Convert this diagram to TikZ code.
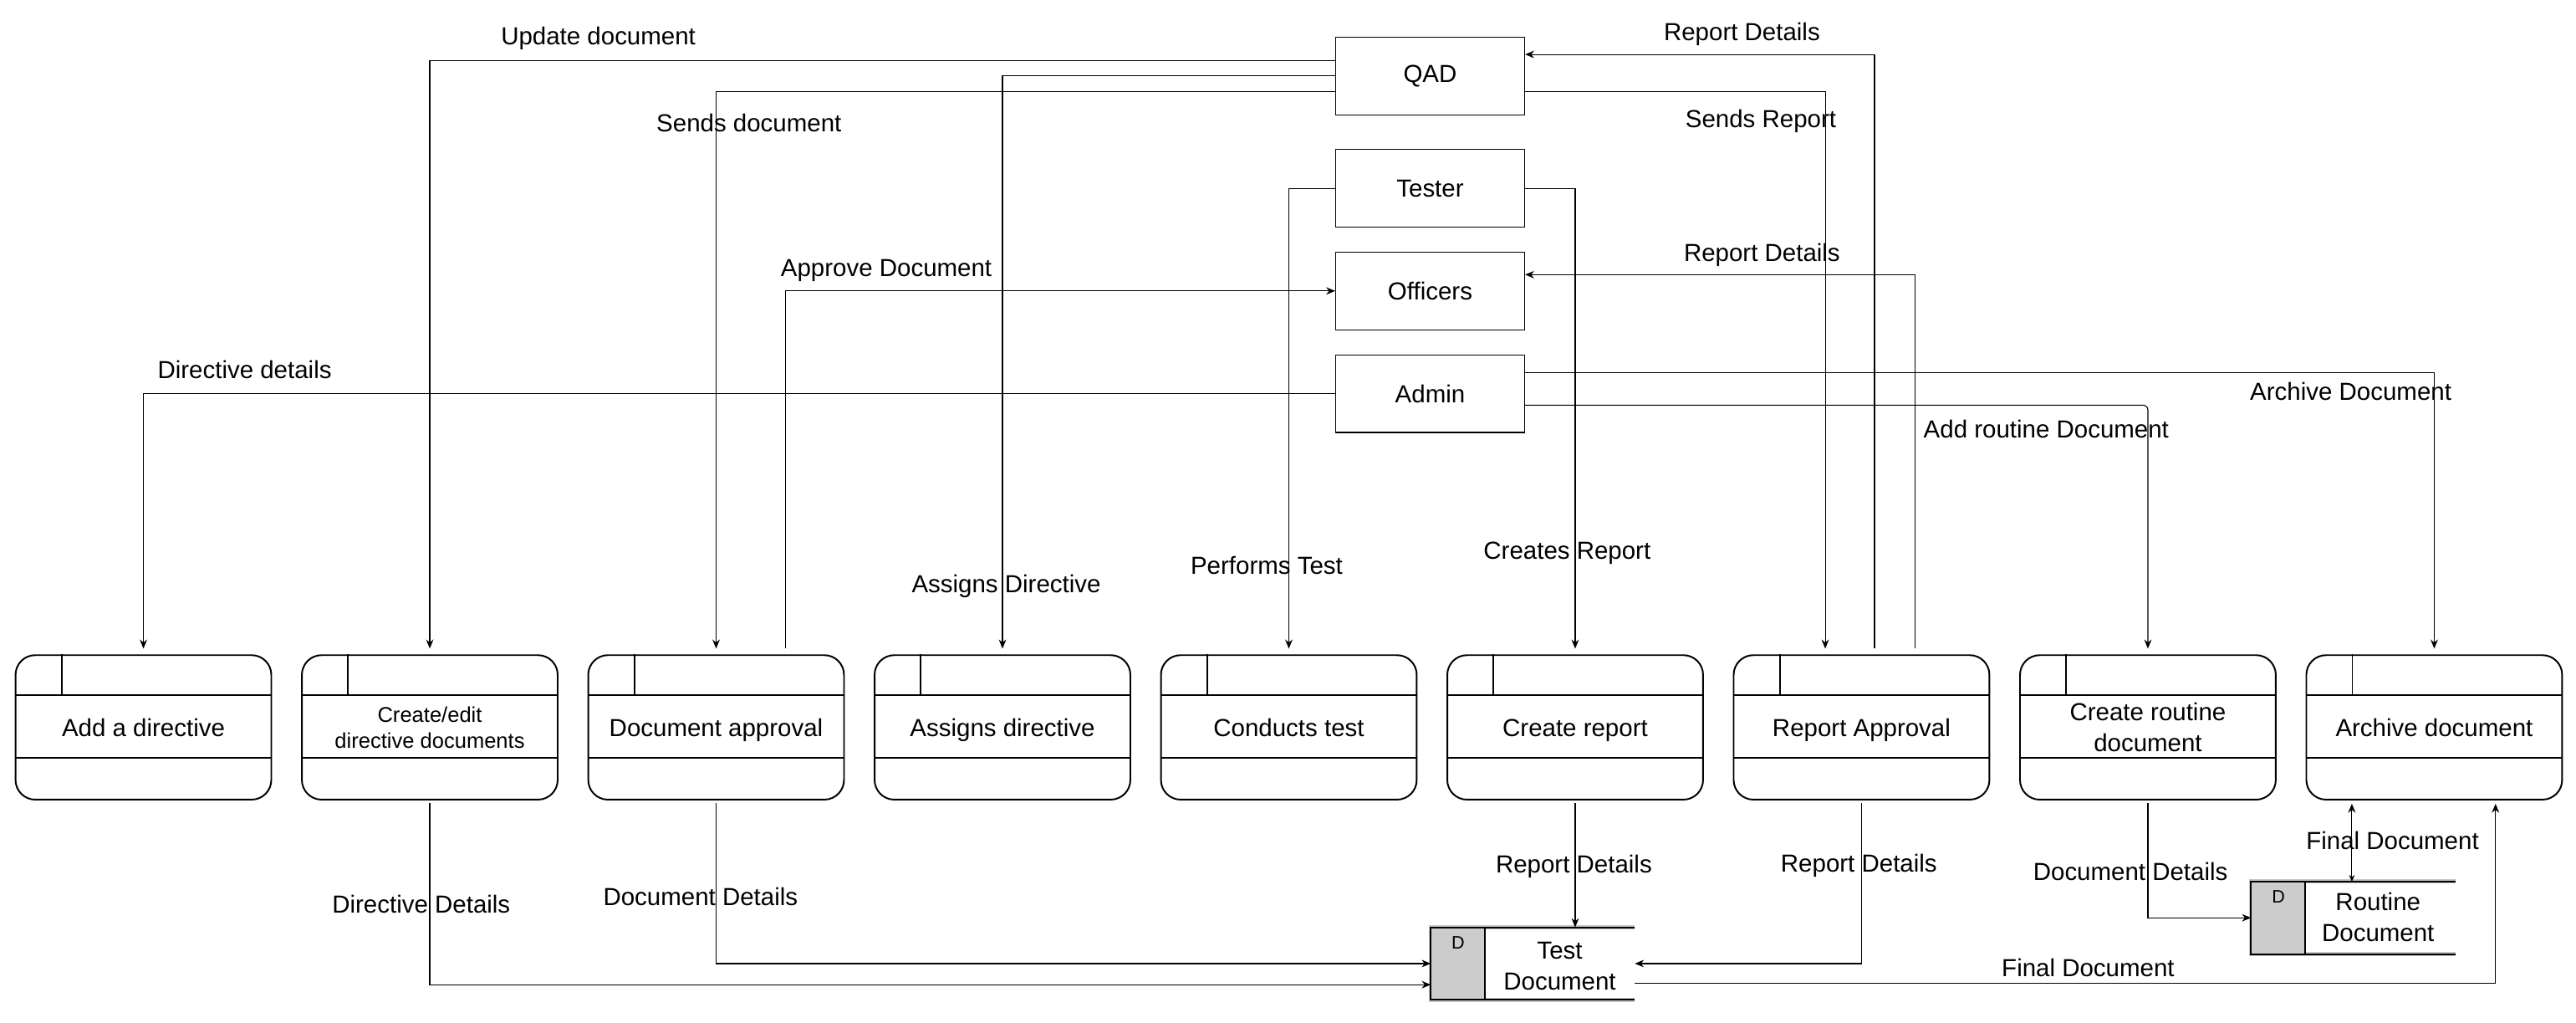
\documentclass[tikz,border=0pt]{standalone}
\usepackage{fontspec}
\setmainfont{Liberation Sans}
\usetikzlibrary{arrows.meta}
\begin{document}
\begin{tikzpicture}[x=1pt,y=-1pt,
  every node/.style={font=\fontsize{15}{18.6}\selectfont},
  flow/.style={line width=0.55pt, -{Stealth[length=5.5pt,width=4.5pt]}},
  entity/.style={draw, line width=0.6pt, minimum width=115pt, minimum height=47.3pt, inner sep=0pt},
  proc/.style={draw, line width=1pt, rounded corners=12pt, minimum width=155.7pt, minimum height=87.9pt, inner sep=0pt, align=center},
  one/.style={text height=10.8pt, text depth=0pt},
  lbl/.style={inner sep=0pt, text height=10.8pt, text depth=0pt},
  storeshape/.style={minimum width=123.8pt, minimum height=43.7pt, inner sep=0pt},
  dlbl/.style={font=\fontsize{11}{13}\selectfont, inner sep=0pt, text height=7.9pt, text depth=0pt},
]
\fill[white] (0,0) rectangle (1568,622);
\useasboundingbox (0,0) rectangle (1568,622);

% external entities
\node[entity] (qad) at (870.5,46.25) {QAD};
\node[entity] (tester) at (870.5,114.6) {Tester};
\node[entity] (officers) at (870.5,177) {Officers};
\node[entity] (admin) at (870.5,239.5) {Admin};

% processes
\node[proc,one] (p1) at (87.3,442.55) {Add a directive};
\node[proc,font=\fontsize{13}{16}\selectfont] (p2) at (261.6,442.55) {Create/edit\\directive documents};
\node[proc,one] (p3) at (435.9,442.55) {Document approval};
\node[proc,one] (p4) at (610.2,442.55) {Assigns directive};
\node[proc,one] (p5) at (784.5,442.55) {Conducts test};
\node[proc,one] (p6) at (958.8,442.55) {Create report};
\node[proc,one] (p7) at (1133.1,442.55) {Report Approval};
\node[proc] (p8) at (1307.4,442.55) {Create routine\\document};
\node[proc,one] (p9) at (1481.7,442.55) {Archive document};
\foreach \n in {p1,p2,p3,p4,p5,p6,p7,p8,p9}{
  \draw[line width=1pt] ([yshift=-24.8pt]\n.north west) -- ([yshift=-24.8pt]\n.north east)
     ([yshift=-63pt]\n.north west) -- ([yshift=-63pt]\n.north east)
     ([xshift=28.5pt]\n.north west) -- ([xshift=28.5pt,yshift=-24.8pt]\n.north west);
}

% data stores
\node[storeshape] (tdoc) at (933,586.25) {};
\node[storeshape, minimum width=124.3pt] (rdoc) at (1432.55,558.4) {};
\foreach \s in {tdoc,rdoc}{
  \draw[gray!45, line width=2.6pt] (\s.north east) -- (\s.north west) -- (\s.south west) -- (\s.south east);
  \fill[gray!40] (\s.north west) rectangle ([xshift=33pt]\s.south west);
  \draw[line width=1pt] (\s.north east) -- (\s.north west) -- (\s.south west) -- (\s.south east);
  \draw[line width=1pt] ([xshift=33pt]\s.north west) -- ([xshift=33pt]\s.south west);
}
\node[dlbl] (tdocd) at (887.5,573.4) {D};
\node[dlbl] (rdocd) at (1386.9,545.4) {D};
\node[align=center] (tdoct) at (949.4,587.8) {Test\\Document};
\node[align=center] (rdoct) at (1447.5,558.1) {Routine\\Document};

% top connectors
\draw[flow,shorten >=3.5pt] (admin.west) -| (p1.north);
\draw[flow,shorten >=3.5pt] ([yshift=9.45pt]qad.west) -| (p2.north);
\draw[flow,shorten >=3.5pt] (qad.west) -| (p4.north);
\draw[flow,shorten >=3.5pt] ([yshift=-9.35pt]qad.west) -| (p3.north);
\draw[flow] ([xshift=42.1pt,yshift=3.5pt]p3.north) |- (officers.west);
\draw[flow,shorten >=3.5pt] (tester.west) -| (p5.north);
\draw[flow,shorten >=3.5pt] (tester.east) -| (p6.north);
\draw[flow,shorten >=3.5pt] ([yshift=-9.35pt]qad.east) -| ([xshift=-22.1pt]p7.north);
\draw[flow] ([xshift=7.9pt,yshift=3.5pt]p7.north) |- ([yshift=13.15pt]qad.east);
\draw[flow] ([xshift=32.6pt,yshift=3.5pt]p7.north) |- ([yshift=9.9pt]officers.east);
\draw[flow,shorten >=3.5pt,rounded corners=3pt] ([yshift=-7pt]admin.east) -| (p8.north);
\draw[flow,shorten >=3.5pt] ([yshift=12.9pt]admin.east) -| (p9.north);

% bottom connectors
\draw[flow,shorten <=1.5pt] (p2.south) |- ([yshift=-12.85pt]tdoc.west);
\draw[flow,shorten <=1.5pt] (p3.south) |- (tdoc.west);
\draw[flow,shorten <=1.5pt] (p6.south) -- (p6.south |- tdoc.north);
\draw[flow,shorten <=1.5pt] (p7.south) |- (tdoc.east);
\draw[flow,shorten >=2pt] ([yshift=-11.75pt]tdoc.east) -| ([xshift=37.3pt]p9.south);
\draw[flow,shorten <=1.5pt] (p8.south) |- (rdoc.west);
\draw[line width=0.55pt,{Stealth[length=4pt,width=3.5pt]}-{Stealth[length=5.5pt,width=4.5pt]},shorten >=2pt] ([xshift=-1pt]rdoc.north) -- ([xshift=-1pt]rdoc.north |- p9.south);

% labels
\node[lbl] (l1) at (364.2,22) {Update document};
\node[lbl] (l2) at (455.9,74.6) {Sends document};
\node[lbl] (l3) at (539.5,162.9) {Approve Document};
\node[lbl] (l4) at (148.9,224.8) {Directive details};
\node[lbl] (l5) at (612.5,355.4) {Assigns Directive};
\node[lbl] (l6) at (771,344) {Performs Test};
\node[lbl] (l7) at (953.9,335) {Creates Report};
\node[lbl] (l8) at (1060.3,19.5) {Report Details};
\node[lbl] (l9) at (1071.8,72.1) {Sends Report};
\node[lbl] (l10) at (1072.5,153.5) {Report Details};
\node[lbl] (l11) at (1245.5,261.2) {Add routine Document};
\node[lbl] (l12) at (1430.9,238.3) {Archive Document};
\node[lbl] (l13) at (256.4,550) {Directive Details};
\node[lbl] (l14) at (426.4,545.4) {Document Details};
\node[lbl] (l15) at (958,525.9) {Report Details};
\node[lbl] (l16) at (1131.5,525) {Report Details};
\node[lbl] (l17) at (1296.8,530.1) {Document Details};
\node[lbl] (l18) at (1456.3,511.5) {Final Document};
\node[lbl] (l19) at (1271,588.6) {Final Document};
\end{tikzpicture}
\end{document}
